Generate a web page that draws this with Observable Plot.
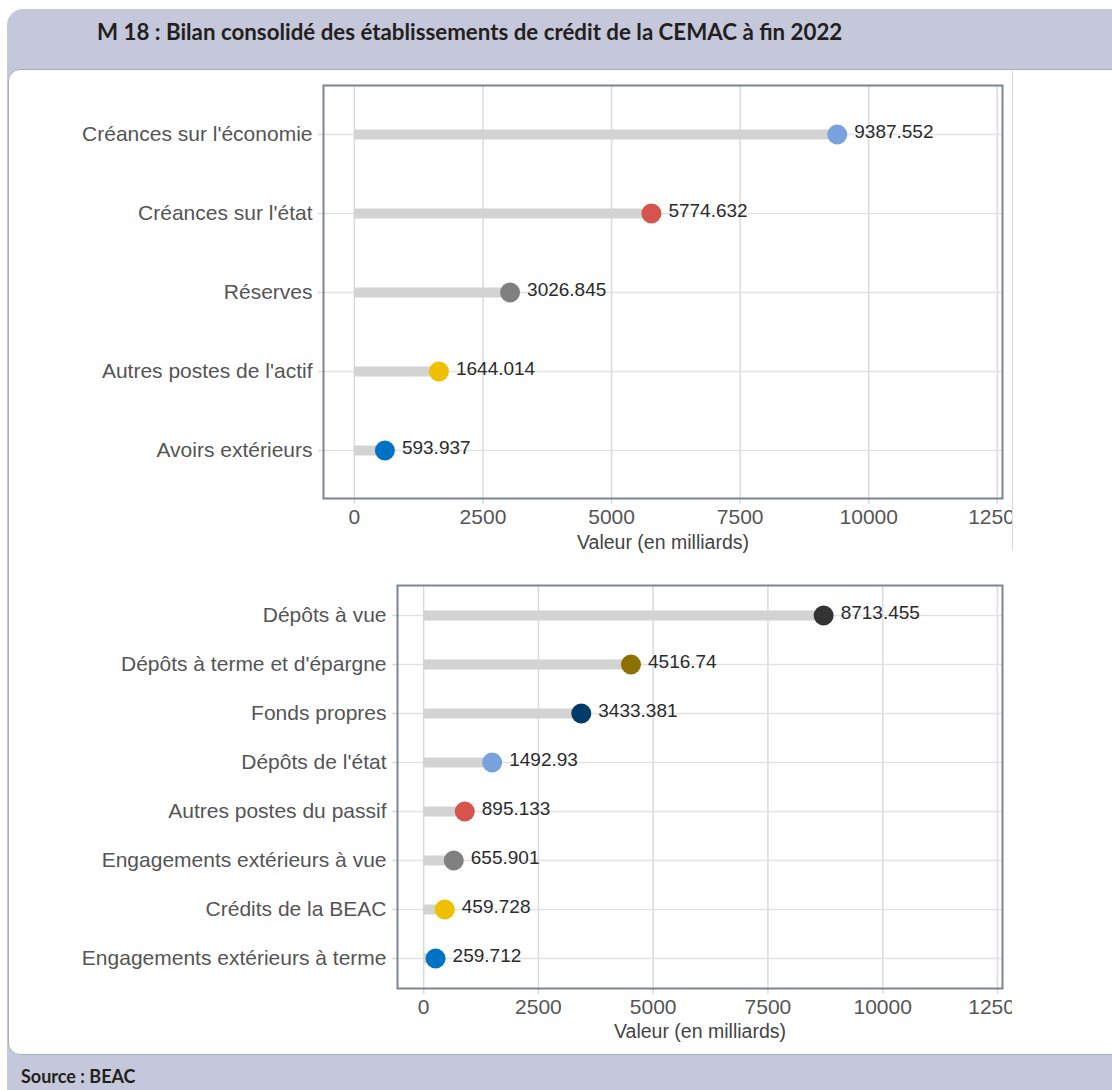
<!DOCTYPE html>
<html>
<head>
<meta charset="utf-8">
<script src="https://cdn.jsdelivr.net/npm/d3@7"></script>
<script src="https://cdn.jsdelivr.net/npm/@observablehq/plot@0.6"></script>
<style>
  html, body { margin: 0; padding: 0; background: #ffffff; }
  body { width: 1112px; height: 1090px; position: relative; overflow: hidden; }
  #band { position: absolute; left: 7px; top: 9px; width: 1130px; height: 1110px; background: #c5c8da; border-top-left-radius: 16px; border-bottom-left-radius: 12px; }
  #title { position: absolute; left: 97px; top: 21px; line-height: 22px; font-family: Lato, "Open Sans", sans-serif; font-weight: 700; font-size: 22.3px; color: #231f20; white-space: nowrap; }
  #panel { position: absolute; left: 8px; top: 69px; width: 1120px; height: 984px; background: #ffffff; border: 1.5px solid #a9adc3; border-radius: 12px 0 0 12px; }
  #source { position: absolute; left: 21px; top: 1067px; line-height: 18px; font-family: Lato, "Open Sans", sans-serif; font-weight: 700; font-size: 18px; color: #231f20; white-space: nowrap; }
  .chart { position: absolute; left: 0; width: 1012px; overflow: hidden; }
  #c1 { top: 72px; height: 488px; }
  #c2 { top: 560px; height: 490px; }
  #c1line { position: absolute; left: 1012px; top: 71px; width: 0; height: 480px; border-left: 1px solid #d8d8d8; }
</style>
</head>
<body>
<div id="band"></div>
<div id="title">M 18 : Bilan consolidé des établissements de crédit de la CEMAC à fin 2022</div>
<div id="panel"></div>
<div id="c1line"></div>
<div id="c1" class="chart"></div>
<div id="c2" class="chart"></div>
<div id="source">Source : BEAC</div>
<script>
// ---- Data ----
const actifCategories = ["Créances sur l'économie", "Créances sur l'état", "Réserves", "Autres postes de l'actif", "Avoirs extérieurs"];
const actifValues = [9387.552, 5774.632, 3026.845, 1644.014, 593.937];
const actifColors = ["#78a2de", "#d5544c", "#808080", "#f0bf00", "#0072c6"];

const passifCategories = ["Dépôts à vue", "Dépôts à terme et d'épargne", "Fonds propres", "Dépôts de l'état", "Autres postes du passif", "Engagements extérieurs à vue", "Crédits de la BEAC", "Engagements extérieurs à terme"];
const passifValues = [8713.455, 4516.74, 3433.381, 1492.93, 895.133, 655.901, 459.728, 259.712];
const passifColors = ["#333333", "#8c7000", "#003a66", "#78a2de", "#d5544c", "#808080", "#f0bf00", "#0072c6"];

const xTicks = [0, 2500, 5000, 7500, 10000, 12500];
const axisTitle = "Valeur (en milliards)";

function lollipop(cats, vals, colors, o) {
  const data = cats.map((c, i) => ({name: c, value: vals[i]}));
  return Plot.plot({
    width: 1012,
    height: o.height,
    marginLeft: o.marginLeft,
    marginRight: 10,
    marginTop: o.marginTop,
    marginBottom: o.marginBottom,
    style: {fontFamily: "'Liberation Sans', Arial, sans-serif", fontSize: "21px", background: "transparent", color: "#555555"},
    x: {domain: o.xDomain},
    y: {type: "point", domain: cats, padding: 0.6},
    color: {domain: cats, range: colors},
    marks: [
      Plot.gridX(xTicks, {stroke: "#dadada", strokeOpacity: 1, strokeWidth: 1.5}),
      Plot.gridY(cats, {stroke: "#e2e2e2", strokeOpacity: 1, strokeWidth: 1.5}),
      Plot.axisX(xTicks, {tickSize: 6, tickPadding: 5, stroke: "#dadada", strokeWidth: 1.5, fill: "#555555", label: null, tickFormat: d => String(d)}),
      Plot.axisY(cats, {tickSize: 5, tickPadding: 6, stroke: "#dadada", strokeWidth: 1.5, fill: "#555555", label: null}),
      Plot.ruleY(data, {y: "name", x1: 0, x2: "value", stroke: "#d3d3d3", strokeWidth: 10}),
      Plot.dot(data, {x: "value", y: "name", r: 10, fill: "name"}),
      Plot.text(data, {x: "value", y: "name", text: d => String(d.value), dx: 17, dy: -3, textAnchor: "start", fill: "#2b2b2b", fontSize: 19}),
      Plot.frame({stroke: "#7b8595", strokeWidth: 2}),
      Plot.text([axisTitle], {frameAnchor: "bottom", dy: o.titleDy, fill: "#444444", fontSize: 19.5})
    ]
  });
}

document.getElementById("c1").append(lollipop(actifCategories, actifValues, actifColors, {
  height: 488, marginLeft: 323, marginTop: 13, marginBottom: 62, xDomain: [-600, 12600], titleDy: 50
}));
document.getElementById("c2").append(lollipop(passifCategories, passifValues, passifColors, {
  height: 490, marginLeft: 397, marginTop: 25, marginBottom: 62, xDomain: [-570, 12610], titleDy: 49
}));
</script>
</body>
</html>
